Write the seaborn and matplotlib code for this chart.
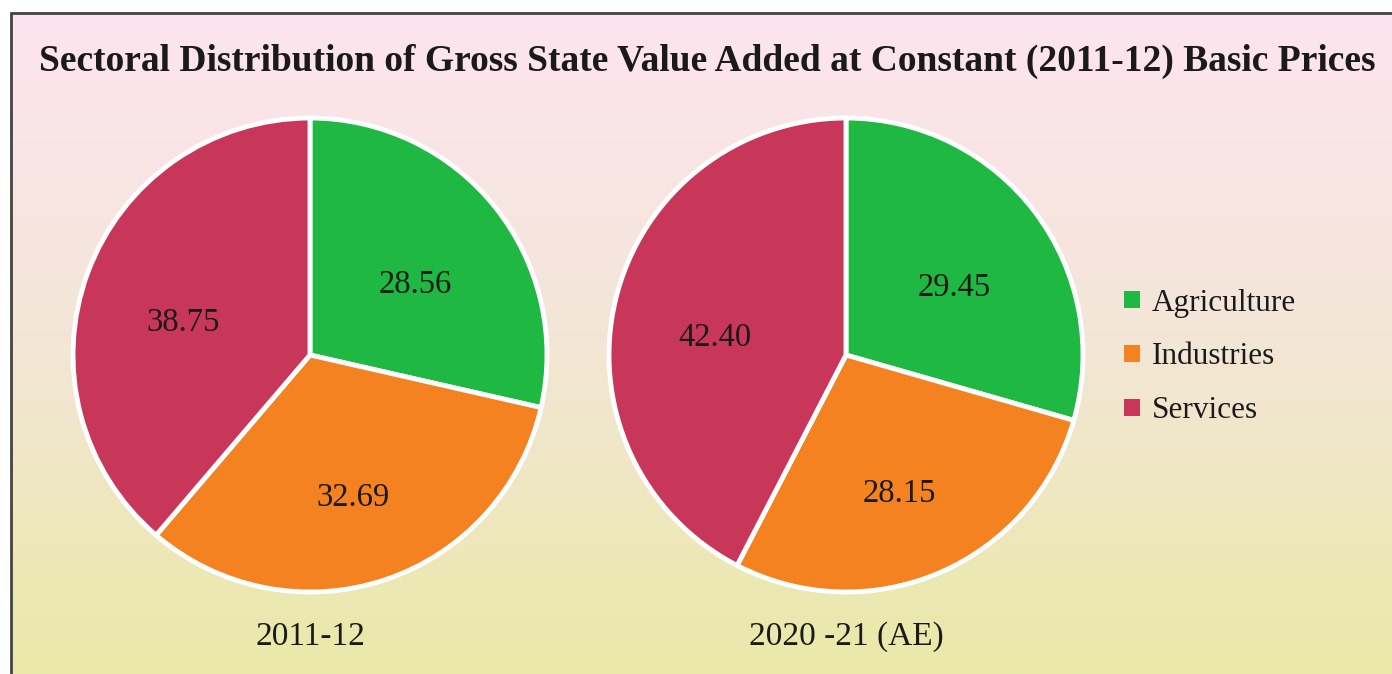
import numpy as np
import pandas as pd
import seaborn as sns
import matplotlib.pyplot as plt
from matplotlib.patches import Rectangle, Patch
from matplotlib.colors import LinearSegmentedColormap

sectors = ['Agriculture', 'Industries', 'Services']
share_2011 = [28.56, 32.69, 38.75]
share_2020 = [29.45, 28.15, 42.40]
years = ['2011-12', '2020 -21 (AE)']
title = 'Sectoral Distribution of Gross State Value Added at Constant (2011-12) Basic Prices'

sns.set_theme(style='white')
plt.rcParams['font.family'] = ['Liberation Serif', 'DejaVu Serif']
colors = sns.color_palette(['#1fb843', '#f58220', '#c8375a'])

fig = plt.figure(figsize=(13.92, 6.74), dpi=100)

# gradient background inside the frame
bg = fig.add_axes([11/1392, 0, 1 - 11/1392, 1 - 13/674])
grad = LinearSegmentedColormap.from_list('bg', ['#fde4f0', '#f3e6d6', '#eae9a8'])
bg.imshow(np.linspace(0, 1, 256).reshape(-1, 1), aspect='auto', cmap=grad,
          extent=[0, 1, 0, 1])
bg.set_xlim(0, 1)
bg.set_ylim(0, 1)
bg.axis('off')
fig.patches.append(Rectangle((11/1392, -0.01), 1.0, 1 - 13/674 + 0.01, transform=fig.transFigure,
                             fill=False, edgecolor='#444444', linewidth=2))

fig.text(707/1392, 1 - 61/674, title, ha='center', va='center',
         fontsize=27, fontweight='bold', color='#1a1a1a')

for cx, vals, yr in [(310, share_2011, years[0]), (846, share_2020, years[1])]:
    ax = fig.add_axes([(cx - 237)/1392, (674 - 592)/674, 474/1392, 474/674])
    wedges, texts = ax.pie(vals, colors=colors, startangle=90, counterclock=False,
                           labels=[f'{v:.2f}' for v in vals], labeldistance=0.57,
                           wedgeprops=dict(edgecolor='white', linewidth=3.5),
                           textprops=dict(fontsize=23.5, color='#1a1a1a', ha='center', va='center'))
    for t in texts:
        x, y = t.get_position()
        t.set_position((x, y - 0.06))
    ax.set_xlim(-1.0, 1.0)
    ax.set_ylim(-1.0, 1.0)
    ax.set_aspect('equal')
    ax.axis('off')
    fig.text(cx/1392, 1 - 637/674, yr, ha='center', va='center', fontsize=24, color='#1a1a1a')

handles = [Patch(facecolor=c, edgecolor='none') for c in colors]
fig.legend(handles, sectors, loc='center left', bbox_to_anchor=(1096/1392, 1 - 357/674),
           frameon=False, fontsize=22.5, handlelength=0.5, handleheight=0.5,
           handletextpad=0.4, labelspacing=0.8, labelcolor='#1a1a1a')

fig.savefig('out.png', dpi=100)
